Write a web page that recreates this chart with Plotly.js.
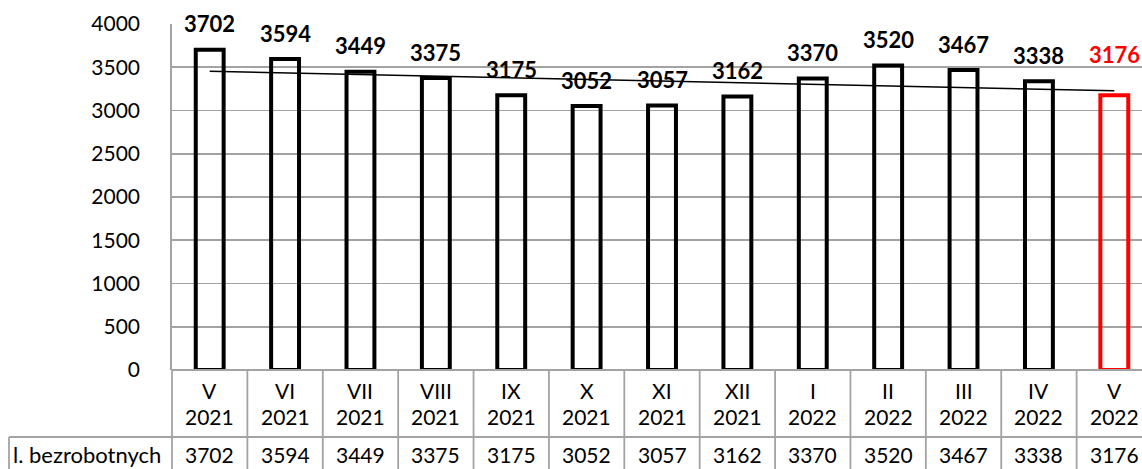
<!DOCTYPE html>
<html>
<head>
<meta charset="utf-8">
<script src="https://cdn.plot.ly/plotly-3.0.1.min.js"></script>
<style>
html,body{margin:0;padding:0;overflow:hidden;background:#fff;}
#chart{width:1160px;height:469px;}
</style>
</head>
<body>
<div id="chart"></div>
<script>
// ---- data ----
var months = ["V","VI","VII","VIII","IX","X","XI","XII","I","II","III","IV","V"];
var years = ["2021","2021","2021","2021","2021","2021","2021","2021","2022","2022","2022","2022","2022"];
var values = [3702,3594,3449,3375,3175,3052,3057,3162,3370,3520,3467,3338,3176];
var rowLabel = "l. bezrobotnych";
var yTicks = [0,500,1000,1500,2000,2500,3000,3500,4000];

// ---- layout constants ----
var W = 1160, H = 469;
var L = 172, R = 8, T = 24, B = 99;
var plotW = W - L - R, plotH = H - T - B;
var n = months.length;
var FONT = "Lato, 'Open Sans', sans-serif";
var GRID = "#a3a3a3";

function pxToPaperY(py){ return (H - B - py) / plotH; }
function pxToPaperX(px){ return (px - L) / plotW; }

var xs = months.map(function(_, i){ return i; });
var lastIdx = n - 1;
var lineColors = values.map(function(_, i){ return i === lastIdx ? "#ff0000" : "#000000"; });

// linear trend (least squares)
var mx = xs.reduce(function(a,b){return a+b;},0)/n;
var my = values.reduce(function(a,b){return a+b;},0)/n;
var sxy = 0, sxx = 0;
for (var i=0;i<n;i++){ sxy += (xs[i]-mx)*(values[i]-my); sxx += (xs[i]-mx)*(xs[i]-mx); }
var slope = sxy/sxx, icpt = my - slope*mx;
var trendX = [xs[0], xs[n-1]];
var trendY = trendX.map(function(x){ return icpt + slope*x; });

var traces = [
  {
    type: "bar", x: xs, y: values, width: 0.37,
    marker: {color: "rgba(255,255,255,0)", line: {color: lineColors, width: 4}},
    hoverinfo: "skip", showlegend: false
  },
  {
    type: "scatter", mode: "lines", x: trendX, y: trendY,
    line: {color: "#000", width: 1.5}, hoverinfo: "skip", showlegend: false
  }
];

var annotations = [];
// value labels above bars
values.forEach(function(v, i){
  annotations.push({
    x: i, y: v, xref: "x", yref: "y", text: "<b>" + v + "</b>", showarrow: false,
    xanchor: "center", yanchor: "middle", yshift: (i === lastIdx ? 41 : 26),
    font: {family: FONT, size: 22, color: lineColors[i]}
  });
});
// table: category rows
var yMonth = pxToPaperY(390), yYear = pxToPaperY(416.5), yVal = pxToPaperY(454);
months.forEach(function(m, i){
  var xp = (i + 0.5) / n;
  annotations.push({x: xp, y: yMonth, xref: "paper", yref: "paper", text: m, showarrow: false,
    xanchor: "center", yanchor: "middle", font: {family: FONT, size: 21, color: "#000"}});
  annotations.push({x: xp, y: yYear, xref: "paper", yref: "paper", text: years[i], showarrow: false,
    xanchor: "center", yanchor: "middle", font: {family: FONT, size: 21, color: "#000"}});
  annotations.push({x: xp, y: yVal, xref: "paper", yref: "paper", text: String(values[i]), showarrow: false,
    xanchor: "center", yanchor: "middle", font: {family: FONT, size: 21, color: "#000"}});
});
annotations.push({x: pxToPaperX(11), y: yVal, xref: "paper", yref: "paper", text: rowLabel, showarrow: false,
  xanchor: "left", yanchor: "middle", font: {family: FONT, size: 22, color: "#000"}});

// table lines
var shapes = [];
var lineStyle = {color: GRID, width: 1.8};
var yRow2 = pxToPaperY(437), yBottom = pxToPaperY(480);
for (var k = 0; k <= n; k++){
  shapes.push({type: "line", xref: "paper", yref: "paper", x0: k/n, x1: k/n, y0: 0, y1: yBottom, line: lineStyle});
}
shapes.push({type: "line", xref: "paper", yref: "paper", x0: pxToPaperX(9), x1: 1, y0: yRow2, y1: yRow2, line: lineStyle});
shapes.push({type: "line", xref: "paper", yref: "paper", x0: pxToPaperX(9), x1: pxToPaperX(9), y0: yRow2, y1: yBottom, line: lineStyle});
shapes.push({type: "line", xref: "paper", yref: "paper", x0: 0, x1: 1, y0: 0, y1: 0, line: lineStyle});

var layout = {
  width: W, height: H,
  margin: {l: L, r: R, t: T, b: B, pad: 0},
  paper_bgcolor: "#fff", plot_bgcolor: "#fff",
  showlegend: false,
  xaxis: {range: [-0.5, n - 0.5], showgrid: false, zeroline: false, showticklabels: false,
          showline: false, ticks: "", fixedrange: true},
  yaxis: {range: [0, 4000], tickvals: yTicks, ticktext: yTicks.map(String),
          showgrid: true, gridcolor: GRID, gridwidth: 1.8, zeroline: false,
          showline: true, linecolor: GRID, linewidth: 1.8, ticks: "",
          ticklabelstandoff: 26,
          tickfont: {family: FONT, size: 21, color: "#000"}, fixedrange: true},
  annotations: annotations,
  shapes: shapes
};

Plotly.newPlot("chart", traces, layout, {displayModeBar: false, staticPlot: true});
</script>
</body>
</html>
